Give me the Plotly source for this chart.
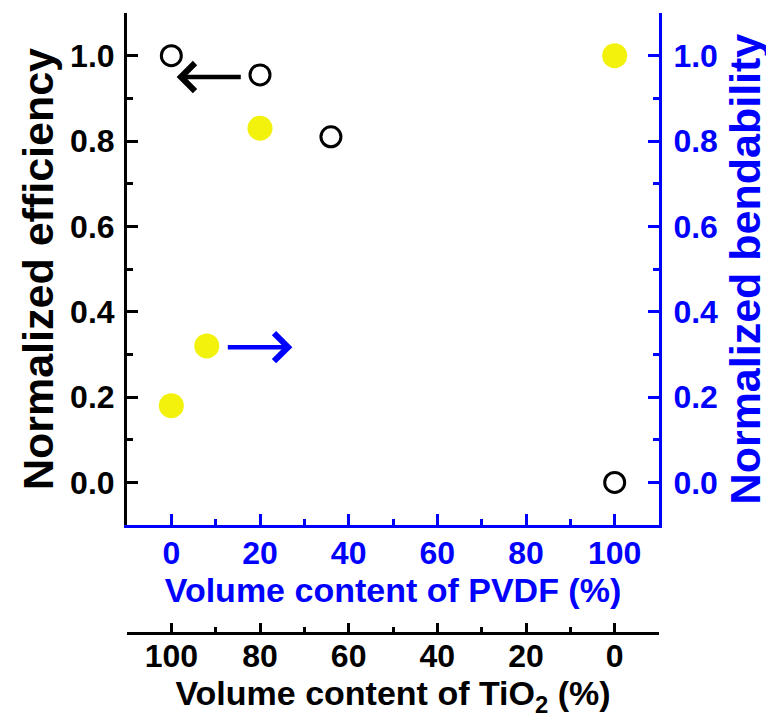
import plotly.graph_objects as go

# ---- data ----
pvdf_eff = [0, 20, 36, 100]
efficiency = [1.0, 0.955, 0.81, 0.0]
pvdf_bend = [0, 8, 20, 100]
bendability = [0.18, 0.32, 0.83, 1.0]

x_major = [0, 20, 40, 60, 80, 100]
x_minor = [10, 30, 50, 70, 90]
y_major = [0.0, 0.2, 0.4, 0.6, 0.8, 1.0]
y_minor = [0.1, 0.3, 0.5, 0.7, 0.9]
tio2_major = [100, 80, 60, 40, 20, 0]
tio2_minor = [-10, 10, 30, 50, 70, 90, 110]

# arrows: (tail_x, tail_y, head_x, head_y)
arrow_eff = (16.0, 0.95, 1.2, 0.95)
arrow_bend = (12.4, 0.317, 27.3, 0.317)

BLUE = "#0000ff"
BLACK = "#000000"
YELLOW = "#f2f20c"
FONT = "Liberation Sans"
TICK = 32
XTITLE = 34
YTITLE = 43

fig = go.Figure()
fig.add_trace(go.Scatter(
    x=pvdf_eff, y=efficiency, mode="markers", xaxis="x", yaxis="y",
    marker=dict(symbol="circle-open", size=20, color=BLACK, line=dict(width=3, color=BLACK)),
))
fig.add_trace(go.Scatter(
    x=pvdf_bend, y=bendability, mode="markers", xaxis="x", yaxis="y2",
    marker=dict(symbol="circle", size=25, color=YELLOW, line=dict(width=0)),
))
# invisible trace so the TiO2 axis is drawn (TiO2 = 100 - PVDF)
fig.add_trace(go.Scatter(
    x=[100 - v for v in pvdf_eff], y=efficiency, mode="markers", xaxis="x2", yaxis="y",
    marker=dict(size=1, opacity=0), hoverinfo="skip",
))


def tick_font(c):
    return dict(family=FONT, size=TICK, color=c, weight="bold")


common = dict(showgrid=False, zeroline=False, linewidth=3, ticks="inside", tickwidth=3, automargin=False)

fig.update_layout(
    width=774, height=718,
    margin=dict(l=119, r=123, t=5, b=93, autoexpand=False),
    plot_bgcolor="white", paper_bgcolor="white",
    showlegend=False,
    xaxis=dict(
        domain=[0, 1], range=[-10, 110], anchor="y", side="bottom",
        linecolor=BLUE, tickcolor=BLUE, ticklen=11,
        tickmode="array", tickvals=x_major, ticklabelstandoff=-3,
        minor=dict(tickmode="array", tickvals=x_minor, ticks="inside", ticklen=6, tickwidth=3, tickcolor=BLUE),
        tickfont=tick_font(BLUE),
        title=dict(text="Volume content of PVDF (%)", font=dict(family=FONT, size=XTITLE, color=BLUE, weight="bold"), standoff=0),
        **common,
    ),
    xaxis3=dict(
        range=[-10, 110], overlaying="x", anchor="y", side="top",
        linecolor=BLACK, tickcolor=BLACK, ticklen=11,
        tickmode="array", tickvals=x_major, showticklabels=False,
        minor=dict(tickmode="array", tickvals=x_minor, ticks="inside", ticklen=6, tickwidth=3, tickcolor=BLACK),
        **common,
    ),
    xaxis2=dict(
        range=[110, -10], overlaying="x", anchor="free", position=0, side="bottom",
        linecolor=BLACK, tickcolor=BLACK, ticklen=9,
        tickmode="array", tickvals=tio2_major, ticklabelstandoff=-6,
        minor=dict(tickmode="array", tickvals=tio2_minor, ticks="inside", ticklen=5, tickwidth=3, tickcolor=BLACK),
        tickfont=tick_font(BLACK),
        title=dict(text="Volume content of TiO<sub>2</sub> (%)", font=dict(family=FONT, size=XTITLE, color=BLACK, weight="bold"), standoff=0),
        **common,
    ),
    yaxis=dict(
        domain=[0.174, 1], range=[-0.1, 1.1], anchor="x", side="left",
        linecolor=BLACK, tickcolor=BLACK, ticklen=11,
        tickmode="array", tickvals=y_major, tickformat=".1f", ticklabelstandoff=3,
        minor=dict(tickmode="array", tickvals=y_minor, ticks="inside", ticklen=6, tickwidth=3, tickcolor=BLACK),
        tickfont=tick_font(BLACK),
        title=dict(text="Normalized efficiency", font=dict(family=FONT, size=YTITLE, color=BLACK, weight="bold"), standoff=4),
        **common,
    ),
    yaxis2=dict(
        range=[-0.1, 1.1], overlaying="y", anchor="x", side="right",
        linecolor=BLUE, tickcolor=BLUE, ticklen=11,
        tickmode="array", tickvals=y_major, tickformat=".1f", ticklabelstandoff=5,
        minor=dict(tickmode="array", tickvals=y_minor, ticks="inside", ticklen=6, tickwidth=3, tickcolor=BLUE),
        tickfont=tick_font(BLUE),
        title=dict(text="Normalized bendability", font=dict(family=FONT, size=YTITLE, color=BLUE, weight="bold"), standoff=13),
        **common,
    ),
)

for (tx, ty, hx, hy), col in [(arrow_eff, BLACK), (arrow_bend, BLUE)]:
    fig.add_annotation(
        x=hx, y=hy, ax=tx, ay=ty, xref="x", yref="y", axref="x", ayref="y",
        text="", showarrow=True, arrowhead=4, arrowsize=1.2, arrowwidth=4.5, arrowcolor=col,
    )

fig.write_html("out.html")
